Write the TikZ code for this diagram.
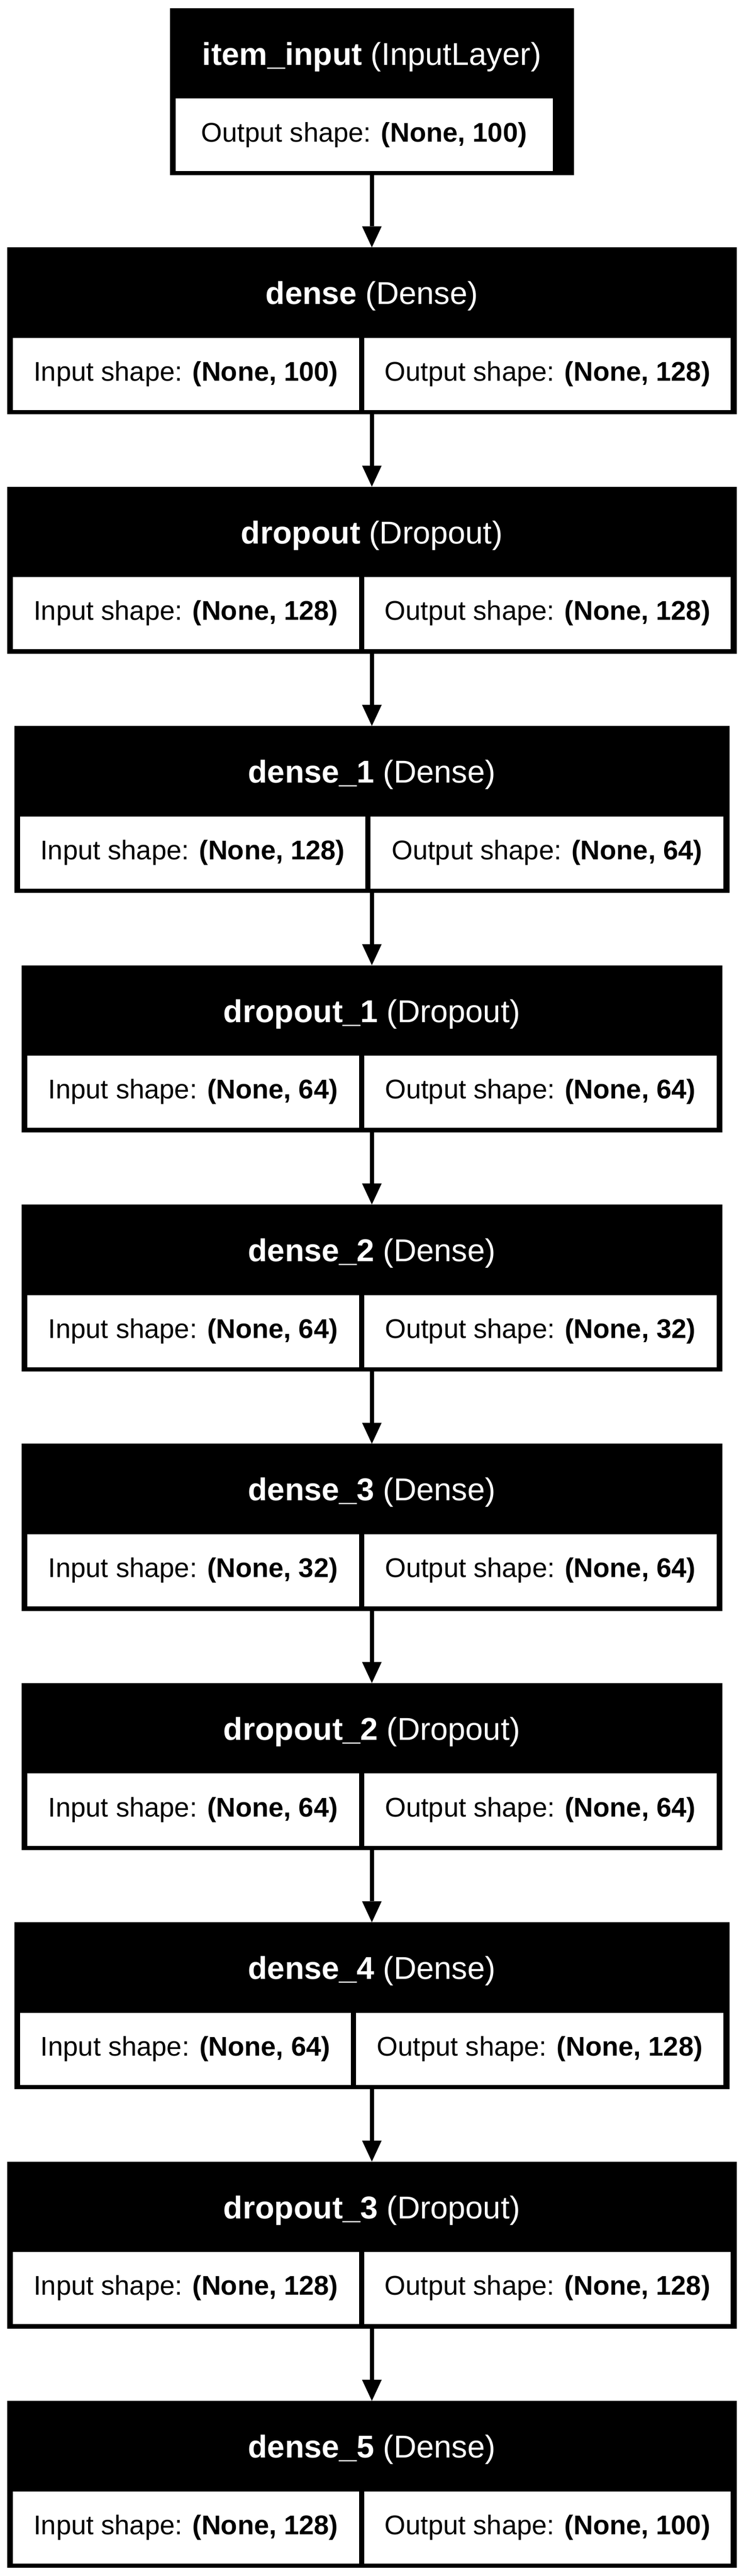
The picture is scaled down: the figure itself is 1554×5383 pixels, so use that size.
\documentclass[tikz,border=0pt]{standalone}
\usepackage{fontspec}
\setmainfont{Liberation Sans}
\usetikzlibrary{arrows.meta}
\newcommand\headfont{\fontsize{66}{79}\selectfont}
\newcommand\cellfont{\fontsize{56.5}{68}\selectfont}
\begin{document}
\begin{tikzpicture}[x=1pt, y=-1pt,
    layer/.style={fill=black, inner sep=0pt, outer sep=0pt, minimum height=349pt},
    head/.style={text=white, font=\headfont, inner sep=0pt},
    cell/.style={fill=white, inner sep=0pt, outer sep=0pt, minimum height=151pt, font=\cellfont},
    flow/.style={line width=9pt, -{Triangle[length=44pt, width=41pt, line width=0pt]}}]
  \fill[white] (0,0) rectangle (1554,5383);
  \useasboundingbox (0,0) rectangle (1554,5383);
  \node[layer, minimum width=844pt] (input) at (777,191.5) {};
  \node[head] (input-h) at (777,119) {\textbf{item\_input} (InputLayer)};
  \node[cell, minimum width=788pt] (input-out) at (761,281.5) {Output shape: \textbf{(None, 100)}};
  \foreach \nm/\ty/\lx/\dx/\lab/\kind/\inp/\outp in {
      dense/517/15/750/dense/Dense/100/128,
      dropout/1017/15/750/dropout/Dropout/128/128,
      dense1/1517/30/763/dense\_1/Dense/128/64,
      dropout1/2017/45/750/dropout\_1/Dropout/64/64,
      dense2/2517/45/750/dense\_2/Dense/64/32,
      dense3/3017/45/750/dense\_3/Dense/32/64,
      dropout2/3517/45/750/dropout\_2/Dropout/64/64,
      dense4/4017/30/733/dense\_4/Dense/64/128,
      dropout3/4517/15/750/dropout\_3/Dropout/128/128,
      dense5/5017/15/750/dense\_5/Dense/128/100}
  {
    \node[layer, minimum width={1554-2*\lx}] (\nm) at (777,\ty+174.5) {};
    \node[head] (\nm-h) at (777,\ty+102) {\textbf{\lab} (\kind)};
    \node[cell, minimum width={\dx-\lx-12}] (\nm-in) at ({(\lx+12+\dx)/2},\ty+264.5) {Input shape: \textbf{(None, \inp)}};
    \node[cell, minimum width={1531-\lx-\dx}] (\nm-out) at ({(\dx+11+1542-\lx)/2},\ty+264.5) {Output shape: \textbf{(None, \outp)}};
  }
  \foreach \src/\dst in {input/dense, dense/dropout, dropout/dense1, dense1/dropout1, dropout1/dense2,
      dense2/dense3, dense3/dropout2, dropout2/dense4, dense4/dropout3, dropout3/dense5}
    \draw[flow] (\src.south) -- (\dst.north);
\end{tikzpicture}
\end{document}
